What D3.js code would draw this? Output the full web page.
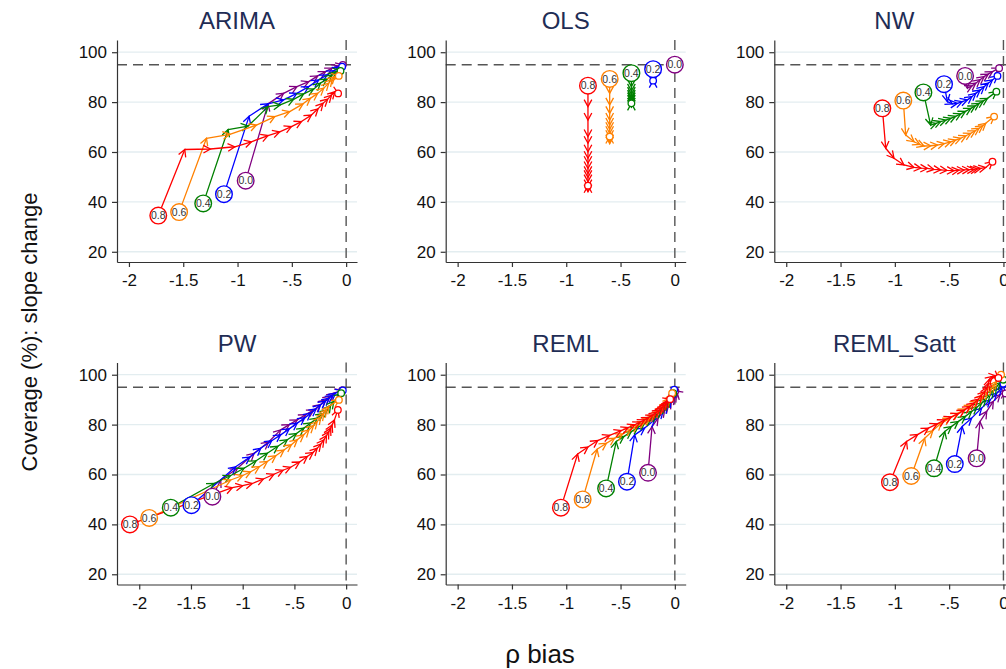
<!DOCTYPE html>
<html><head><meta charset="utf-8">
<script src="https://cdn.jsdelivr.net/npm/d3@7"></script>
<style>body{margin:0;background:#fff}svg{display:block}</style>
</head><body>
<svg id="c" width="1006" height="669"></svg>
<script>
// ---------- data ----------
const panelTitles = ["ARIMA", "OLS", "NW", "PW", "REML", "REML_Satt"];
const rhoLabels = ["0.0", "0.2", "0.4", "0.6", "0.8"];
const seriesColors = ["#800080", "#0000ff", "#008000", "#ff8000", "#ff0000"];
const xTicks = [-2, -1.5, -1, -0.5, 0];
const xTickLabels = ["-2", "-1.5", "-1", "-.5", "0"];
const yTicks = [20, 40, 60, 80, 100];
const refCoverage = 95;
const refBias = 0;

// each panel: series for rho = 0.0, 0.2, 0.4, 0.6, 0.8 ; points [bias, coverage]
const ARIMA = [
  [[-0.925,48.5],[-0.719,79.3],[-0.576,83.5],[-0.453,86.2],[-0.345,88.2],[-0.262,90.5],[-0.19,92.2],[-0.129,93.6],[-0.068,94.5],[-0.031,94.9]],
  [[-1.125,43.1],[-0.894,74.3],[-0.719,79.3],[-0.576,80.9],[-0.453,83.5],[-0.345,86.2],[-0.253,88.9],[-0.176,90.9],[-0.114,92.6],[-0.059,93.6],[-0.037,94.2]],
  [[-1.316,39.4],[-1.087,69],[-0.903,70.4],[-0.719,78.2],[-0.607,78.9],[-0.484,81.1],[-0.391,83.3],[-0.30,85.2],[-0.237,87.6],[-0.176,89.2],[-0.129,90.9],[-0.099,92.2],[-0.052,92.5]],
  [[-1.538,35.9],[-1.286,65.5],[-1.071,67.1],[-0.826,70.8],[-0.657,74.2],[-0.52,76.2],[-0.397,79.3],[-0.33,81.5],[-0.262,83.5],[-0.206,85.6],[-0.16,87.6],[-0.129,89.2],[-0.105,90.2],[-0.068,90.5]],
  [[-1.73,34.5],[-1.486,61],[-1.25,61.2],[-1.025,62.1],[-0.872,64.1],[-0.719,66.6],[-0.612,68.1],[-0.504,70.2],[-0.412,72.2],[-0.32,74.8],[-0.259,77.3],[-0.213,79.5],[-0.17,81.2],[-0.135,82.8],[-0.105,84.2],[-0.074,83.5]]
];
const OLS = [
  [[0,95],[0,94.8],[0,95.1],[0,94.9]],
  [[-0.2,93.2],[-0.2,89.5],[-0.2,88.6],[-0.2,87.8],[-0.2,88.6]],
  [[-0.4,91.6],[-0.4,86.2],[-0.4,84.5],[-0.4,83.2],[-0.4,82],[-0.4,81],[-0.4,80],[-0.4,78.9],[-0.4,78],[-0.4,79.5]],
  [[-0.6,89.3],[-0.6,83.5],[-0.6,78.9],[-0.6,75.5],[-0.6,72.8],[-0.6,70.8],[-0.6,69.1],[-0.6,67.5],[-0.6,65.9],[-0.6,64.1],[-0.6,63.3],[-0.6,66.2]],
  [[-0.8,86.6],[-0.8,78.2],[-0.8,72.8],[-0.8,66.2],[-0.8,63.5],[-0.8,60.1],[-0.8,57.5],[-0.8,55.5],[-0.8,53.4],[-0.8,51.4],[-0.8,49.8],[-0.8,48.1],[-0.8,46.1],[-0.8,44.1],[-0.8,46.5]]
];
const NW = [
  [[-0.353,90.5],[-0.332,85.6],[-0.29,86.5],[-0.255,87.6],[-0.215,89],[-0.178,90.2],[-0.14,91.2],[-0.101,92.2],[-0.04,93.6]],
  [[-0.547,87.2],[-0.516,80.2],[-0.47,79.3],[-0.424,79.5],[-0.38,80.2],[-0.332,80.9],[-0.29,82.2],[-0.255,83.5],[-0.215,84.8],[-0.178,86.2],[-0.14,87.6],[-0.101,88.9],[-0.055,90.5]],
  [[-0.737,83.9],[-0.67,70.8],[-0.62,71.5],[-0.578,72.2],[-0.53,72.8],[-0.485,73.5],[-0.44,74.3],[-0.393,75.3],[-0.35,76.3],[-0.30,77.5],[-0.26,78.5],[-0.224,79.5],[-0.185,80.5],[-0.147,81.5],[-0.065,84.2]],
  [[-0.922,80.6],[-0.90,66.8],[-0.823,64.1],[-0.77,63],[-0.731,62.4],[-0.67,62.5],[-0.608,62.8],[-0.545,63.4],[-0.485,64.1],[-0.44,64.8],[-0.393,65.5],[-0.345,66.5],[-0.301,67.5],[-0.26,68.5],[-0.224,69.5],[-0.19,70.5],[-0.163,71.5],[-0.086,74.2]],
  [[-1.115,77.5],[-1.084,61.5],[-1.008,57.5],[-0.916,54.8],[-0.823,53.8],[-0.76,53.5],[-0.70,53.4],[-0.64,53],[-0.578,52.8],[-0.52,52.6],[-0.455,52.5],[-0.41,52.7],[-0.363,52.8],[-0.315,52.9],[-0.27,53],[-0.24,53.2],[-0.209,53.4],[-0.163,53.8],[-0.101,56.1]]
];
const PW = [
  [[-1.293,51.1],[-1.212,57.8],[-1.05,62.5],[-0.89,68.5],[-0.75,73],[-0.633,77.9],[-0.55,80],[-0.473,81.9],[-0.39,84],[-0.312,85.9],[-0.25,88],[-0.199,89.9],[-0.155,91.3],[-0.119,92.6],[-0.039,93.7]],
  [[-1.495,47.7],[-1.068,63.1],[-0.93,67],[-0.826,70.5],[-0.72,73.5],[-0.633,75.9],[-0.55,78.3],[-0.473,80.6],[-0.40,82.7],[-0.344,84.6],[-0.29,86.3],[-0.248,87.9],[-0.2,89.4],[-0.167,90.6],[-0.13,91.7],[-0.103,92.6],[-0.032,93.7]],
  [[-1.695,46.7],[-1.277,56.4],[-1.12,59.5],[-0.987,62.5],[-0.87,65.5],[-0.762,68.5],[-0.66,71.3],[-0.569,73.9],[-0.48,76.4],[-0.408,78.6],[-0.34,80.7],[-0.28,82.6],[-0.225,84.4],[-0.183,85.9],[-0.15,87.7],[-0.119,89.3],[-0.048,92.6]],
  [[-1.904,42.6],[-1.116,57.8],[-1.0,59.6],[-0.923,61.1],[-0.84,63.1],[-0.762,65.2],[-0.68,67.5],[-0.601,69.8],[-0.53,71.9],[-0.473,73.9],[-0.41,75.9],[-0.36,77.9],[-0.315,79.6],[-0.28,81.2],[-0.245,83],[-0.215,84.6],[-0.19,86],[-0.167,87.3],[-0.07,89.9]],
  [[-2.09,40],[-1.1,54.7],[-1.0,55.5],[-0.907,56.4],[-0.8,58.2],[-0.698,60.1],[-0.61,61.7],[-0.537,62.9],[-0.45,65],[-0.376,67.2],[-0.32,68.8],[-0.28,70.5],[-0.245,72.2],[-0.215,73.9],[-0.19,75.6],[-0.167,77.2],[-0.15,78.6],[-0.135,79.9],[-0.113,81.9],[-0.08,85.9]]
];
const REML = [
  [[-0.247,60.7],[-0.21,79.2],[-0.154,82.6],[-0.093,85.9],[-0.06,87.5],[-0.031,89.3],[0.0,91],[0.015,92.0],[0.02,93],[0.005,93.5]],
  [[-0.441,57.1],[-0.37,75.9],[-0.278,78.6],[-0.185,81.9],[-0.108,85.3],[-0.07,87.5],[-0.046,89.9],[-0.02,92],[-0.006,94.0]],
  [[-0.633,54.4],[-0.54,73.2],[-0.47,75.2],[-0.401,77.2],[-0.34,78.9],[-0.278,80.6],[-0.22,82.2],[-0.17,83.9],[-0.13,85.6],[-0.093,87.3],[-0.066,88.6],[-0.046,89.9],[-0.015,92.6]],
  [[-0.849,50],[-0.716,70.1],[-0.63,72.5],[-0.556,74.5],[-0.48,76.3],[-0.401,78.2],[-0.34,79.7],[-0.278,81.2],[-0.23,82.5],[-0.185,83.9],[-0.145,85.6],[-0.108,87.3],[-0.075,89],[-0.046,90.6],[-0.025,92.6]],
  [[-1.049,46.7],[-0.895,68.2],[-0.8,71],[-0.71,73.6],[-0.6,75.7],[-0.494,77.6],[-0.43,78.8],[-0.37,79.9],[-0.32,81],[-0.278,81.9],[-0.24,82.9],[-0.2,83.9],[-0.17,84.9],[-0.139,85.9],[-0.115,86.9],[-0.093,87.9],[-0.075,88.9],[-0.062,89.9],[-0.043,90.2]]
];
const REML_Satt = [
  [[-0.247,66.5],[-0.216,81.2],[-0.154,85.3],[-0.093,89.3],[-0.031,92],[0.015,93.3],[0.02,92.5]],
  [[-0.448,64.2],[-0.38,79.2],[-0.293,82.6],[-0.201,86.6],[-0.123,89.9],[-0.062,92.6],[-0.015,94.6],[0.0,96.4]],
  [[-0.639,62.5],[-0.54,77.2],[-0.48,79.2],[-0.417,81.2],[-0.35,83.3],[-0.293,85.3],[-0.245,87],[-0.201,88.6],[-0.16,90.3],[-0.123,92],[-0.09,93.7],[-0.062,95.3],[-0.03,96.8],[0.0,98]],
  [[-0.849,59.4],[-0.725,74.5],[-0.65,77.6],[-0.571,80.6],[-0.49,82.6],[-0.417,84.6],[-0.35,86.3],[-0.293,87.9],[-0.24,89.6],[-0.185,91.3],[-0.145,93],[-0.108,94.6],[-0.085,96],[-0.062,97.3],[-0.022,100]],
  [[-1.045,56.9],[-0.892,73.2],[-0.79,76],[-0.691,78.6],[-0.61,80.3],[-0.54,81.9],[-0.48,83.1],[-0.417,84.3],[-0.36,85.8],[-0.309,87.3],[-0.27,88.7],[-0.231,90.2],[-0.2,91.8],[-0.17,93.3],[-0.15,95],[-0.139,96.6],[-0.13,98.2],[-0.1,99.3],[-0.07,99.5],[-0.046,98.7]]
];
const panelData = [ARIMA, OLS, NW, PW, REML, REML_Satt];

// ---------- layout ----------
const colX = [117, 445.7, 774.3];
const rowY = [40, 362.5];
const W = 240, H = 222;
const xDomains = [[-2.11, 0.10], [-2.11, 0.10], [-2.11, 0.10], [-2.215, 0.105], [-2.11, 0.10], [-2.11, 0.10]];
const yDomain = [15.9, 104.9];
const FONT = "'Liberation Sans', Arial, Helvetica, sans-serif";

const svg = d3.select("#c");
svg.append("rect").attr("width", 1006).attr("height", 669).attr("fill", "#fff");

panelTitles.forEach((title, pi) => {
  const col = pi % 3, row = Math.floor(pi / 3);
  const g = svg.append("g").attr("transform", `translate(${colX[col]},${rowY[row]})`);
  const x = d3.scaleLinear().domain(xDomains[pi]).range([0, W]);
  const y = d3.scaleLinear().domain(yDomain).range([H, 0]);

  // grid
  g.append("g").selectAll("line").data(yTicks).join("line")
    .attr("x1", 0).attr("x2", W).attr("y1", d => y(d)).attr("y2", d => y(d))
    .attr("stroke", "#e3edf0").attr("stroke-width", 1.3);

  // reference lines
  g.append("line").attr("x1", 0).attr("x2", W).attr("y1", y(refCoverage)).attr("y2", y(refCoverage))
    .attr("stroke", "#555").attr("stroke-width", 1.4).attr("stroke-dasharray", "10,6");
  g.append("line").attr("x1", x(refBias)).attr("x2", x(refBias)).attr("y1", 0).attr("y2", H)
    .attr("stroke", "#555").attr("stroke-width", 1.4).attr("stroke-dasharray", "10,6");

  // axes
  const ax = g.append("g").attr("transform", `translate(0,${H})`)
    .call(d3.axisBottom(x).tickValues(xTicks).tickFormat((d, i) => xTickLabels[i]).tickSize(5).tickSizeOuter(0).tickPadding(7));
  const ay = g.append("g")
    .call(d3.axisLeft(y).tickValues(yTicks).tickSize(5).tickSizeOuter(0).tickPadding(5));
  [ax, ay].forEach(a => {
    a.selectAll("path,line").attr("stroke", "#333").attr("stroke-width", 1.2);
    a.selectAll("text").attr("font-family", FONT).attr("font-size", 17).attr("fill", "#111");
  });

  // title
  svg.append("text").attr("x", colX[col] + W / 2).attr("y", rowY[row] - 11)
    .attr("text-anchor", "middle").attr("font-family", FONT).attr("font-size", 24)
    .attr("fill", "#1f2d55").text(title);

  const series = panelData[pi];
  const line = d3.line().x(d => x(d[0])).y(d => y(d[1]));
  const L = 8, spread = 0.5;

  series.forEach((pts, si) => {
    const col = seriesColors[si];
    const sg = g.append("g");
    sg.append("path").attr("d", line(pts)).attr("fill", "none")
      .attr("stroke", col).attr("stroke-width", 1.3).attr("stroke-linejoin", "round");
    const heads = [];
    for (let i = 1; i < pts.length; i++) {
      const x0 = x(pts[i - 1][0]), y0 = y(pts[i - 1][1]);
      const x1 = x(pts[i][0]), y1 = y(pts[i][1]);
      const dx = x1 - x0, dy = y1 - y0;
      if (Math.hypot(dx, dy) < 0.6) continue;
      const a = Math.atan2(dy, dx);
      const p1 = [x1 - L * Math.cos(a - spread), y1 - L * Math.sin(a - spread)];
      const p2 = [x1 - L * Math.cos(a + spread), y1 - L * Math.sin(a + spread)];
      heads.push(`M${p1[0]},${p1[1]}L${x1},${y1}L${p2[0]},${p2[1]}`);
    }
    sg.append("path").attr("d", heads.join("")).attr("fill", "none")
      .attr("stroke", col).attr("stroke-width", 1.3).attr("stroke-linejoin", "miter");
  });

  // end markers
  series.forEach((pts, si) => {
    const last = pts[pts.length - 1];
    g.append("circle").attr("cx", x(last[0])).attr("cy", y(last[1])).attr("r", 3.3)
      .attr("fill", "#fff").attr("stroke", seriesColors[si]).attr("stroke-width", 1.3);
  });

  // start markers with labels
  series.forEach((pts, si) => {
    const first = pts[0];
    const cx = x(first[0]), cy = y(first[1]);
    g.append("circle").attr("cx", cx).attr("cy", cy).attr("r", 8.3)
      .attr("fill", "#fff").attr("stroke", seriesColors[si]).attr("stroke-width", 1.4);
    g.append("text").attr("x", cx).attr("y", cy + 3.6).attr("text-anchor", "middle")
      .attr("font-family", FONT).attr("font-size", 10.5).attr("fill", "#333").text(rhoLabels[si]);
  });
});

// axis titles
svg.append("text").attr("transform", "translate(37,332) rotate(-90)")
  .attr("text-anchor", "middle").attr("font-family", FONT).attr("font-size", 22)
  .attr("fill", "#111").text("Coverage (%): slope change");
svg.append("text").attr("x", 540).attr("y", 663)
  .attr("text-anchor", "middle").attr("font-family", FONT).attr("font-size", 26)
  .attr("fill", "#111").text("ρ bias");
</script>
</body></html>
